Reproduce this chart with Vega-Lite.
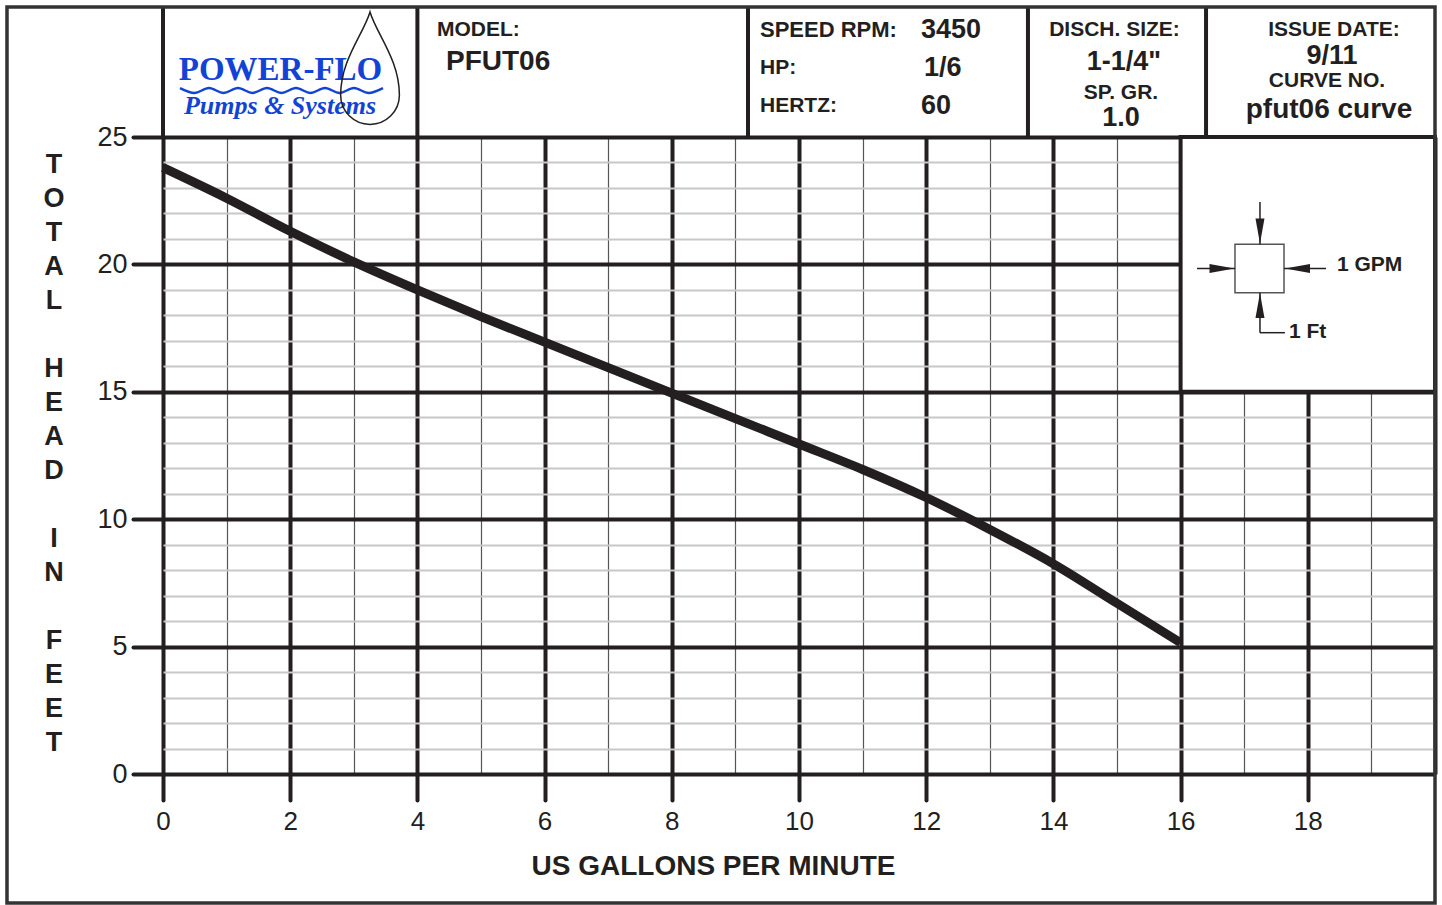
{
  "$schema": "https://vega.github.io/schema/vega-lite/v6.json",
  "width": 1272,
  "height": 637,
  "autosize": "none",
  "padding": {"left": 163, "top": 137, "right": 7, "bottom": 131},
  "background": "white",
  "config": {
    "view": {"stroke": null},
    "font": "Liberation Sans",
    "text": {"font": "Liberation Sans", "fontWeight": "bold", "fontSize": 21, "baseline": "middle", "color": "#231f20"},
    "rule": {"color": "#231f20"}
  },
  "resolve": {"axis": {"x": "independent", "y": "independent"}},
  "layer": [
    {
      "data": {"values": [
        {"gpm": 0, "head": 23.8}, {"gpm": 1, "head": 22.6}, {"gpm": 2, "head": 21.3},
        {"gpm": 3, "head": 20.1}, {"gpm": 4, "head": 19.0}, {"gpm": 5, "head": 17.95},
        {"gpm": 6, "head": 16.95}, {"gpm": 7, "head": 15.95}, {"gpm": 8, "head": 14.95},
        {"gpm": 9, "head": 13.95}, {"gpm": 10, "head": 12.95}, {"gpm": 11, "head": 11.95},
        {"gpm": 12, "head": 10.85}, {"gpm": 13, "head": 9.6}, {"gpm": 14, "head": 8.25},
        {"gpm": 15, "head": 6.7}, {"gpm": 16, "head": 5.15}
      ]},
      "mark": {"type": "line", "color": "#231f20", "strokeWidth": 9, "interpolate": "monotone"},
      "encoding": {
        "x": {
          "field": "gpm", "type": "quantitative",
          "scale": {"domain": [0, 20], "nice": false, "zero": false},
          "axis": {
            "values": [0,1,2,3,4,5,6,7,8,9,10,11,12,13,14,15,16,17,18,19,20],
            "domain": false,
            "grid": true,
            "gridColor": {"condition": {"test": "datum.value % 2 === 0", "value": "#231f20"}, "value": "#555555"},
            "gridWidth": {"condition": {"test": "datum.value % 2 === 0", "value": 4}, "value": 1.2},
            "gridOpacity": 1,
            "ticks": true,
            "tickSize": 26,
            "tickWidth": {"condition": {"test": "datum.value % 2 === 0 && datum.value < 20", "value": 4}, "value": 0},
            "tickColor": "#231f20",
            "tickCap": "round",
            "labelExpr": "datum.value % 2 === 0 && datum.value < 20 ? datum.label : ''",
            "labelFont": "Liberation Sans",
            "labelFontSize": 26,
            "labelColor": "#231f20",
            "labelBaseline": "middle",
            "labelPadding": 21,
            "labelFlush": false,
            "labelOverlap": false,
            "labelBound": false,
            "title": "US GALLONS PER MINUTE",
            "titleFont": "Liberation Sans",
            "titleFontSize": 28,
            "titleFontWeight": "bold",
            "titleColor": "#231f20",
            "titleX": 550,
            "titleY": 92,
            "titleAlign": "center",
            "titleBaseline": "middle"
          }
        },
        "y": {
          "field": "head", "type": "quantitative",
          "scale": {"domain": [0, 25], "nice": false, "zero": false},
          "axis": {
            "values": [0,1,2,3,4,5,6,7,8,9,10,11,12,13,14,15,16,17,18,19,20,21,22,23,24,25],
            "domain": false,
            "grid": true,
            "gridColor": {"condition": {"test": "datum.value % 5 === 0", "value": "#231f20"}, "value": "#c8c8c8"},
            "gridWidth": {"condition": {"test": "datum.value % 5 === 0", "value": 4}, "value": 2},
            "gridOpacity": 1,
            "ticks": true,
            "tickSize": 30,
            "tickWidth": {"condition": {"test": "datum.value % 5 === 0", "value": 4}, "value": 0},
            "tickColor": "#231f20",
            "tickCap": "round",
            "labelExpr": "datum.value % 5 === 0 ? datum.label : ''",
            "labelFont": "Liberation Sans",
            "labelFontSize": 27,
            "labelColor": "#231f20",
            "labelBaseline": "middle",
            "labelPadding": 6,
            "labelFlush": false,
            "labelOverlap": false,
            "labelBound": false,
            "title": null
          }
        }
      }
    },
    {
      "data": {"values": [{}]},
      "mark": {"type": "text", "text": ["T","O","T","A","L"], "align": "center", "baseline": "top", "fontSize": 27, "lineHeight": 34},
      "encoding": {"x": {"datum": -1.714, "type": "quantitative", "axis": null}, "y": {"datum": 24.42, "type": "quantitative", "axis": null}}
    },
    {
      "data": {"values": [{}]},
      "mark": {"type": "text", "text": ["H","E","A","D"], "align": "center", "baseline": "top", "fontSize": 27, "lineHeight": 34},
      "encoding": {"x": {"datum": -1.714, "type": "quantitative", "axis": null}, "y": {"datum": 16.42, "type": "quantitative", "axis": null}}
    },
    {
      "data": {"values": [{}]},
      "mark": {"type": "text", "text": ["I","N"], "align": "center", "baseline": "top", "fontSize": 27, "lineHeight": 34},
      "encoding": {"x": {"datum": -1.714, "type": "quantitative", "axis": null}, "y": {"datum": 9.745, "type": "quantitative", "axis": null}}
    },
    {
      "data": {"values": [{}]},
      "mark": {"type": "text", "text": ["F","E","E","T"], "align": "center", "baseline": "top", "fontSize": 27, "lineHeight": 34},
      "encoding": {"x": {"datum": -1.714, "type": "quantitative", "axis": null}, "y": {"datum": 5.742, "type": "quantitative", "axis": null}}
    },
    {
      "data": {"values": [{}]},
      "mark": {"type": "rect", "fill": "white", "stroke": "#231f20", "strokeWidth": 4},
      "encoding": {
        "x": {"datum": 16, "type": "quantitative", "axis": null}, "x2": {"datum": 20},
        "y": {"datum": 15, "type": "quantitative", "axis": null}, "y2": {"datum": 25}
      }
    },
    {
      "data": {"values": [{}]},
      "mark": {"type": "rect", "fill": "white", "fillOpacity": 0, "stroke": "#555555", "strokeWidth": 1.5},
      "encoding": {
        "x": {"datum": 16.855, "type": "quantitative", "axis": null}, "x2": {"datum": 17.626},
        "y": {"datum": 18.89, "type": "quantitative", "axis": null}, "y2": {"datum": 20.79}
      }
    },
    {
      "data": {"values": [{}]},
      "mark": {"type": "rule", "strokeWidth": 1.5},
      "encoding": {
        "x": {"datum": 17.248, "type": "quantitative", "axis": null},
        "y": {"datum": 22.45, "type": "quantitative", "axis": null}, "y2": {"datum": 20.79}
      }
    },
    {
      "data": {"values": [{}]},
      "mark": {"type": "rule", "strokeWidth": 1.5},
      "encoding": {
        "x": {"datum": 17.248, "type": "quantitative", "axis": null},
        "y": {"datum": 18.89, "type": "quantitative", "axis": null}, "y2": {"datum": 17.32}
      }
    },
    {
      "data": {"values": [{}]},
      "mark": {"type": "rule", "strokeWidth": 1.5},
      "encoding": {
        "x": {"datum": 17.248, "type": "quantitative", "axis": null}, "x2": {"datum": 17.64},
        "y": {"datum": 17.32, "type": "quantitative", "axis": null}
      }
    },
    {
      "data": {"values": [{}]},
      "mark": {"type": "rule", "strokeWidth": 1.5},
      "encoding": {
        "x": {"datum": 16.258, "type": "quantitative", "axis": null}, "x2": {"datum": 16.855},
        "y": {"datum": 19.84, "type": "quantitative", "axis": null}
      }
    },
    {
      "data": {"values": [{}]},
      "mark": {"type": "rule", "strokeWidth": 1.5},
      "encoding": {
        "x": {"datum": 17.626, "type": "quantitative", "axis": null}, "x2": {"datum": 18.286},
        "y": {"datum": 19.84, "type": "quantitative", "axis": null}
      }
    },
    {
      "data": {"values": [{}]},
      "mark": {"type": "point", "shape": "M-0.36,-1 L0.36,-1 L0,1 Z", "size": 625, "filled": true, "opacity": 1, "color": "#231f20"},
      "encoding": {
        "x": {"datum": 17.248, "type": "quantitative", "axis": null},
        "y": {"datum": 21.31, "type": "quantitative", "axis": null}
      }
    },
    {
      "data": {"values": [{}]},
      "mark": {"type": "point", "shape": "M-0.36,1 L0.36,1 L0,-1 Z", "size": 625, "filled": true, "opacity": 1, "color": "#231f20"},
      "encoding": {
        "x": {"datum": 17.248, "type": "quantitative", "axis": null},
        "y": {"datum": 18.39, "type": "quantitative", "axis": null}
      }
    },
    {
      "data": {"values": [{}]},
      "mark": {"type": "point", "shape": "M-1,-0.36 L-1,0.36 L1,0 Z", "size": 625, "filled": true, "opacity": 1, "color": "#231f20"},
      "encoding": {
        "x": {"datum": 16.651, "type": "quantitative", "axis": null},
        "y": {"datum": 19.84, "type": "quantitative", "axis": null}
      }
    },
    {
      "data": {"values": [{}]},
      "mark": {"type": "point", "shape": "M1,-0.36 L1,0.36 L-1,0 Z", "size": 625, "filled": true, "opacity": 1, "color": "#231f20"},
      "encoding": {
        "x": {"datum": 17.838, "type": "quantitative", "axis": null},
        "y": {"datum": 19.84, "type": "quantitative", "axis": null}
      }
    },
    {
      "data": {"values": [{}]},
      "mark": {"type": "text", "text": "1 GPM", "align": "left"},
      "encoding": {
        "x": {"datum": 18.459, "type": "quantitative", "axis": null},
        "y": {"datum": 19.98, "type": "quantitative", "axis": null}
      }
    },
    {
      "data": {"values": [{}]},
      "mark": {"type": "text", "text": "1 Ft", "align": "left"},
      "encoding": {
        "x": {"datum": 17.704, "type": "quantitative", "axis": null},
        "y": {"datum": 17.35, "type": "quantitative", "axis": null}
      }
    },
    {
      "data": {"values": [{}]},
      "mark": {"type": "rule", "strokeWidth": 4},
      "encoding": {
        "x": {"datum": 0, "type": "quantitative", "axis": null},
        "y": {"datum": 25, "type": "quantitative", "axis": null}, "y2": {"datum": 30.1}
      }
    },
    {
      "data": {"values": [{}]},
      "mark": {"type": "rule", "strokeWidth": 4},
      "encoding": {
        "x": {"datum": 4, "type": "quantitative", "axis": null},
        "y": {"datum": 25, "type": "quantitative", "axis": null}, "y2": {"datum": 30.1}
      }
    },
    {
      "data": {"values": [{}]},
      "mark": {"type": "rule", "strokeWidth": 4},
      "encoding": {
        "x": {"datum": 9.198, "type": "quantitative", "axis": null},
        "y": {"datum": 25, "type": "quantitative", "axis": null}, "y2": {"datum": 30.1}
      }
    },
    {
      "data": {"values": [{}]},
      "mark": {"type": "rule", "strokeWidth": 4},
      "encoding": {
        "x": {"datum": 13.6, "type": "quantitative", "axis": null},
        "y": {"datum": 25, "type": "quantitative", "axis": null}, "y2": {"datum": 30.1}
      }
    },
    {
      "data": {"values": [{}]},
      "mark": {"type": "rule", "strokeWidth": 4},
      "encoding": {
        "x": {"datum": 16.4, "type": "quantitative", "axis": null},
        "y": {"datum": 25, "type": "quantitative", "axis": null}, "y2": {"datum": 30.1}
      }
    },
    {
      "data": {"values": [{}]},
      "mark": {"type": "rect", "fill": "white", "fillOpacity": 0, "stroke": "#333333", "strokeWidth": 3.5},
      "encoding": {
        "x": {"datum": -2.453, "type": "quantitative", "axis": null}, "x2": {"datum": 20},
        "y": {"datum": -5.063, "type": "quantitative", "axis": null}, "y2": {"datum": 30.1}
      }
    },
    {
      "data": {"values": [{}]},
      "mark": {"type": "text", "text": "MODEL:", "align": "left"},
      "encoding": {"x": {"datum": 4.308, "type": "quantitative", "axis": null}, "y": {"datum": 29.2, "type": "quantitative", "axis": null}}
    },
    {
      "data": {"values": [{}]},
      "mark": {"type": "text", "text": "PFUT06", "align": "left", "fontSize": 28},
      "encoding": {"x": {"datum": 4.45, "type": "quantitative", "axis": null}, "y": {"datum": 27.94, "type": "quantitative", "axis": null}}
    },
    {
      "data": {"values": [{}]},
      "mark": {"type": "text", "text": "SPEED RPM:", "align": "left", "fontSize": 22},
      "encoding": {"x": {"datum": 9.387, "type": "quantitative", "axis": null}, "y": {"datum": 29.2, "type": "quantitative", "axis": null}}
    },
    {
      "data": {"values": [{}]},
      "mark": {"type": "text", "text": "3450", "align": "left", "fontSize": 27},
      "encoding": {"x": {"datum": 11.918, "type": "quantitative", "axis": null}, "y": {"datum": 29.2, "type": "quantitative", "axis": null}}
    },
    {
      "data": {"values": [{}]},
      "mark": {"type": "text", "text": "HP:", "align": "left"},
      "encoding": {"x": {"datum": 9.387, "type": "quantitative", "axis": null}, "y": {"datum": 27.71, "type": "quantitative", "axis": null}}
    },
    {
      "data": {"values": [{}]},
      "mark": {"type": "text", "text": "1/6", "align": "left", "fontSize": 27},
      "encoding": {"x": {"datum": 11.965, "type": "quantitative", "axis": null}, "y": {"datum": 27.71, "type": "quantitative", "axis": null}}
    },
    {
      "data": {"values": [{}]},
      "mark": {"type": "text", "text": "HERTZ:", "align": "left"},
      "encoding": {"x": {"datum": 9.387, "type": "quantitative", "axis": null}, "y": {"datum": 26.22, "type": "quantitative", "axis": null}}
    },
    {
      "data": {"values": [{}]},
      "mark": {"type": "text", "text": "60", "align": "left", "fontSize": 27},
      "encoding": {"x": {"datum": 11.918, "type": "quantitative", "axis": null}, "y": {"datum": 26.22, "type": "quantitative", "axis": null}}
    },
    {
      "data": {"values": [{}]},
      "mark": {"type": "text", "text": "DISCH. SIZE:", "align": "center"},
      "encoding": {"x": {"datum": 14.961, "type": "quantitative", "axis": null}, "y": {"datum": 29.2, "type": "quantitative", "axis": null}}
    },
    {
      "data": {"values": [{}]},
      "mark": {"type": "text", "text": "1-1/4\"", "align": "center", "fontSize": 27},
      "encoding": {"x": {"datum": 15.11, "type": "quantitative", "axis": null}, "y": {"datum": 27.94, "type": "quantitative", "axis": null}}
    },
    {
      "data": {"values": [{}]},
      "mark": {"type": "text", "text": "SP. GR.", "align": "center"},
      "encoding": {"x": {"datum": 15.063, "type": "quantitative", "axis": null}, "y": {"datum": 26.73, "type": "quantitative", "axis": null}}
    },
    {
      "data": {"values": [{}]},
      "mark": {"type": "text", "text": "1.0", "align": "center", "fontSize": 27},
      "encoding": {"x": {"datum": 15.063, "type": "quantitative", "axis": null}, "y": {"datum": 25.75, "type": "quantitative", "axis": null}}
    },
    {
      "data": {"values": [{}]},
      "mark": {"type": "text", "text": "ISSUE DATE:", "align": "center"},
      "encoding": {"x": {"datum": 18.412, "type": "quantitative", "axis": null}, "y": {"datum": 29.2, "type": "quantitative", "axis": null}}
    },
    {
      "data": {"values": [{}]},
      "mark": {"type": "text", "text": "9/11", "align": "center", "fontSize": 27},
      "encoding": {"x": {"datum": 18.381, "type": "quantitative", "axis": null}, "y": {"datum": 28.18, "type": "quantitative", "axis": null}}
    },
    {
      "data": {"values": [{}]},
      "mark": {"type": "text", "text": "CURVE NO.", "align": "center"},
      "encoding": {"x": {"datum": 18.302, "type": "quantitative", "axis": null}, "y": {"datum": 27.2, "type": "quantitative", "axis": null}}
    },
    {
      "data": {"values": [{}]},
      "mark": {"type": "text", "text": "pfut06 curve", "align": "center", "fontSize": 28},
      "encoding": {"x": {"datum": 18.333, "type": "quantitative", "axis": null}, "y": {"datum": 26.06, "type": "quantitative", "axis": null}}
    },
    {
      "data": {"values": [{}]},
      "mark": {"type": "text", "text": "POWER-FLO", "align": "center", "font": "Liberation Serif", "fontSize": 33, "color": "#1243d6"},
      "encoding": {"x": {"datum": 1.847, "type": "quantitative", "axis": null}, "y": {"datum": 27.63, "type": "quantitative", "axis": null}}
    },
    {
      "data": {"values": [{}]},
      "mark": {"type": "text", "text": "Pumps & Systems", "align": "center", "font": "Liberation Serif", "fontStyle": "italic", "fontSize": 26, "color": "#1243d6"},
      "encoding": {"x": {"datum": 1.84, "type": "quantitative", "axis": null}, "y": {"datum": 26.22, "type": "quantitative", "axis": null}}
    },
    {
      "data": {"values": [
        {"gpm": 0.267, "ft": 26.92}, {"gpm": 0.495, "ft": 26.73}, {"gpm": 0.723, "ft": 26.92},
        {"gpm": 0.951, "ft": 26.73}, {"gpm": 1.179, "ft": 26.92}, {"gpm": 1.407, "ft": 26.73},
        {"gpm": 1.635, "ft": 26.92}, {"gpm": 1.863, "ft": 26.73}, {"gpm": 2.091, "ft": 26.92},
        {"gpm": 2.319, "ft": 26.73}, {"gpm": 2.547, "ft": 26.92}, {"gpm": 2.775, "ft": 26.73},
        {"gpm": 3.003, "ft": 26.92}, {"gpm": 3.231, "ft": 26.73}, {"gpm": 3.459, "ft": 26.92}
      ]},
      "mark": {"type": "line", "color": "#1243d6", "strokeWidth": 2.5, "interpolate": "monotone"},
      "encoding": {
        "x": {"field": "gpm", "type": "quantitative", "axis": null},
        "y": {"field": "ft", "type": "quantitative", "axis": null}
      }
    },
    {
      "data": {"values": [{}]},
      "mark": {"type": "point", "shape": "M0,-1 C0.12,-0.6 0.52,-0.15 0.52,0.47 A0.52,0.52 0 1 1 -0.52,0.47 C-0.52,-0.15 -0.12,-0.6 0,-1 Z", "size": 12769, "filled": false, "opacity": 1, "color": "#231f20", "strokeWidth": 1.5},
      "encoding": {"x": {"datum": 3.255, "type": "quantitative", "axis": null}, "y": {"datum": 27.69, "type": "quantitative", "axis": null}}
    }
  ]
}
